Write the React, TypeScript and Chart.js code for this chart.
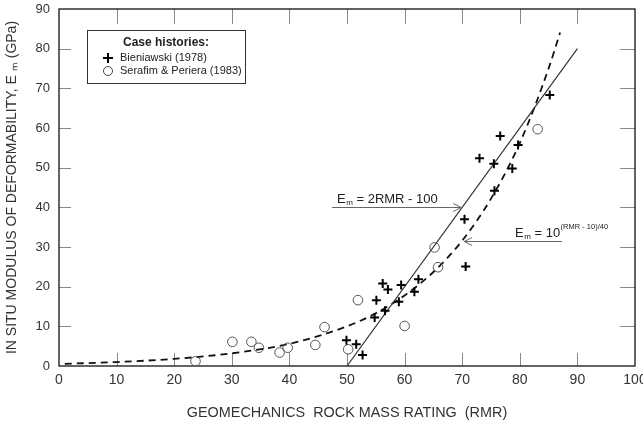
import React, { useEffect, useRef } from "react";
import { Chart, registerables } from "chart.js";

Chart.register(...registerables);

const FONT = '"Liberation Sans", Arial, Helvetica, sans-serif';

// Bieniawski (1978) case histories
const bieniawskiRMR = [49.9, 51.6, 52.7, 54.8, 55.1, 56.2, 56.6, 57.1, 59.0, 59.4, 61.7, 62.4, 70.4, 70.6, 73.0, 75.5, 75.6, 76.6, 78.7, 79.7, 85.2];
const bieniawskiEm = [6.5, 5.5, 2.8, 12.2, 16.6, 20.8, 13.9, 19.3, 16.2, 20.4, 18.7, 21.9, 37.0, 25.1, 52.4, 51.0, 44.2, 58.0, 49.8, 55.7, 68.3];

// Serafim & Periera (1983) case histories
const serafimRMR = [23.7, 30.1, 33.4, 34.7, 38.3, 39.7, 44.5, 46.1, 50.2, 51.9, 60.0, 65.2, 65.8, 83.1];
const serafimEm = [1.2, 6.1, 6.1, 4.6, 3.4, 4.6, 5.3, 9.8, 4.2, 16.6, 10.1, 29.9, 24.9, 59.7];

// Em = 2RMR - 100 (solid line)
const linearRMR = [50, 90];
const linearEm = [0, 80];

// Em = 10^((RMR-10)/40) (dashed curve)
const curveRMR = [1, 10, 20, 30, 40, 50, 55, 60, 65, 70, 75, 80, 85, 87];
const curveEm = [0.56, 1.0, 1.8, 3.2, 5.6, 10, 13.3, 17.8, 23.7, 31.6, 42.2, 56.2, 75, 84.1];

// Tick labels
const xTickValues = [0, 10, 20, 30, 40, 50, 60, 70, 80, 90, 100];
const yTickValues = [0, 10, 20, 30, 40, 50, 60, 70, 80, 90];

// Legend / annotation texts
const legendTitle = "Case histories:";
const seriesNames = ["Bieniawski (1978)", "Serafim & Periera (1983)"];
const xTitle = "GEOMECHANICS  ROCK MASS RATING  (RMR)";
const yTitle = "IN SITU MODULUS OF DEFORMABILITY, E ₘ (GPa)";

const zip = (xs: number[], ys: number[]) => xs.map((x, i) => ({ x, y: ys[i] }));

const frameTicksPlugin = {
  id: "frameTicks",
  beforeDatasetsDraw(chart: any) {
    const { ctx, chartArea: a, scales } = chart;
    const xs = scales.x;
    const ys = scales.y;
    ctx.save();
    ctx.strokeStyle = "#8a8a8a";
    ctx.lineWidth = 1;
    xTickValues.forEach((v) => {
      if (v <= 0 || v >= 100) return;
      const px = Math.round(xs.getPixelForValue(v)) + 0.5;
      ctx.beginPath();
      ctx.moveTo(px, a.bottom);
      ctx.lineTo(px, a.bottom - 13);
      ctx.moveTo(px, a.top);
      ctx.lineTo(px, a.top + 15);
      ctx.stroke();
    });
    yTickValues.forEach((v) => {
      if (v <= 0 || v >= 90) return;
      const py = Math.round(ys.getPixelForValue(v)) + 0.5;
      ctx.beginPath();
      ctx.moveTo(a.left, py);
      ctx.lineTo(a.left + 12, py);
      ctx.moveTo(a.right, py);
      ctx.lineTo(a.right - 15, py);
      ctx.stroke();
    });
    ctx.strokeStyle = "#111";
    ctx.lineWidth = 1.3;
    ctx.strokeRect(a.left, a.top, a.right - a.left, a.bottom - a.top);
    ctx.restore();
  },
};

function drawEm(ctx: CanvasRenderingContext2D, x: number, baseline: number, size: number) {
  ctx.font = `${size}px ${FONT}`;
  ctx.fillText("E", x, baseline);
  let w = ctx.measureText("E").width + 0.5;
  const sub = Math.round(size * 0.62);
  ctx.font = `${sub}px ${FONT}`;
  ctx.fillText("m", x + w, baseline + 2);
  w += ctx.measureText("m").width;
  ctx.font = `${size}px ${FONT}`;
  return x + w;
}

function arrow(ctx: CanvasRenderingContext2D, x0: number, y: number, x1: number) {
  const dir = x1 > x0 ? 1 : -1;
  ctx.beginPath();
  ctx.moveTo(x0, y);
  ctx.lineTo(x1, y);
  ctx.moveTo(x1 - dir * 8, y - 4);
  ctx.lineTo(x1, y);
  ctx.lineTo(x1 - dir * 8, y + 4);
  ctx.stroke();
}

const annotationPlugin = {
  id: "annotations",
  afterDatasetsDraw(chart: any) {
    const { ctx, scales } = chart;
    const xs = scales.x;
    const ys = scales.y;
    ctx.save();
    ctx.textBaseline = "alphabetic";
    ctx.textAlign = "left";
    ctx.fillStyle = "#222";
    ctx.strokeStyle = "#666";
    ctx.lineWidth = 1;

    // Em = 2RMR - 100
    const y1 = Math.round(ys.getPixelForValue(40)) + 0.5;
    const tip1 = xs.getPixelForValue(70) - 1;
    let cx = drawEm(ctx, 337, y1 - 5, 13);
    ctx.fillText(" = 2RMR - 100", cx, y1 - 5);
    arrow(ctx, 332, y1, tip1);

    // Em = 10^((RMR-10)/40)
    const y2 = Math.round(ys.getPixelForValue(31.6)) + 0.5;
    const tip2 = xs.getPixelForValue(70) + 2;
    cx = drawEm(ctx, 515, y2 - 5, 13);
    ctx.fillText(" = 10", cx, y2 - 5);
    cx += ctx.measureText(" = 10").width;
    ctx.font = `7.5px ${FONT}`;
    ctx.fillText("(RMR - 10)/40", cx + 0.5, y2 - 13);
    arrow(ctx, 562, y2, tip2);

    // Legend box
    ctx.strokeStyle = "#333";
    ctx.lineWidth = 1;
    ctx.strokeRect(87.5, 30.5, 158, 53);
    ctx.fillStyle = "#222";
    ctx.textAlign = "center";
    ctx.textBaseline = "middle";
    ctx.font = `bold 12px ${FONT}`;
    ctx.fillText(legendTitle, 166, 43);
    ctx.textAlign = "left";
    ctx.font = `11px ${FONT}`;
    ctx.fillText(seriesNames[0], 120, 58);
    ctx.fillText(seriesNames[1], 120, 71);
    // markers
    ctx.strokeStyle = "#000";
    ctx.lineWidth = 2;
    ctx.beginPath();
    ctx.moveTo(103, 58);
    ctx.lineTo(113, 58);
    ctx.moveTo(108, 53);
    ctx.lineTo(108, 63);
    ctx.stroke();
    ctx.strokeStyle = "#444";
    ctx.lineWidth = 1;
    ctx.beginPath();
    ctx.arc(108, 71, 4.5, 0, Math.PI * 2);
    ctx.stroke();
    ctx.restore();
  },
};

export default function App() {
  const ref = useRef<HTMLCanvasElement | null>(null);

  useEffect(() => {
    if (!ref.current) return;
    const chart = new Chart(ref.current, {
      type: "scatter",
      data: {
        datasets: [
          {
            label: seriesNames[0],
            data: zip(bieniawskiRMR, bieniawskiEm),
            pointStyle: "cross",
            pointRadius: 4.5,
            pointBorderWidth: 2,
            borderColor: "#000",
            backgroundColor: "#000",
            showLine: false,
          },
          {
            label: seriesNames[1],
            data: zip(serafimRMR, serafimEm),
            pointStyle: "circle",
            pointRadius: 4.8,
            pointBorderWidth: 1,
            borderColor: "#555",
            backgroundColor: "rgba(0,0,0,0)",
            showLine: false,
          },
          {
            label: "Em = 2RMR - 100",
            data: zip(linearRMR, linearEm),
            showLine: true,
            pointRadius: 0,
            borderColor: "#333",
            borderWidth: 1.2,
          },
          {
            label: "Em = 10^((RMR-10)/40)",
            data: zip(curveRMR, curveEm),
            showLine: true,
            pointRadius: 0,
            borderColor: "#111",
            borderWidth: 1.8,
            borderDash: [7, 5],
            cubicInterpolationMode: "monotone",
          },
        ],
      },
      options: {
        responsive: false,
        animation: false,
        events: [],
        layout: { padding: { left: 0, top: 9, right: 8, bottom: 0 } },
        plugins: {
          legend: { display: false },
          tooltip: { enabled: false },
        },
        scales: {
          x: {
            type: "linear",
            min: 0,
            max: 100,
            afterBuildTicks: (s: any) => {
              s.ticks = xTickValues.map((v) => ({ value: v }));
            },
            afterFit: (s: any) => {
              s.height = 61;
              s.paddingLeft = 0;
              s.paddingRight = 0;
            },
            grid: { display: false, drawTicks: false },
            border: { display: false },
            ticks: {
              padding: 6,
              maxRotation: 0,
              autoSkip: false,
              color: "#333",
              font: { family: FONT, size: 14 },
            },
            title: {
              display: true,
              text: xTitle,
              color: "#333",
              font: { family: FONT, size: 14.4 },
              padding: { top: 0, bottom: 5 },
            },
          },
          y: {
            type: "linear",
            min: 0,
            max: 90,
            afterBuildTicks: (s: any) => {
              s.ticks = yTickValues.map((v) => ({ value: v }));
            },
            afterFit: (s: any) => {
              s.width = 59;
              s.paddingTop = 0;
              s.paddingBottom = 0;
            },
            grid: { display: false, drawTicks: false },
            border: { display: false },
            ticks: {
              padding: 9,
              autoSkip: false,
              color: "#333",
              font: { family: FONT, size: 13 },
            },
            title: {
              display: true,
              text: yTitle,
              color: "#333",
              font: { family: FONT, size: 14 },
              padding: { top: 4, bottom: 0 },
            },
          },
        },
      },
      plugins: [frameTicksPlugin, annotationPlugin],
    } as any);
    return () => chart.destroy();
  }, []);

  return (
    <div style={{ position: "fixed", left: 0, top: 0, width: 643, height: 427, background: "#fff" }}>
      <canvas ref={ref} width={643} height={427} style={{ display: "block" }} />
    </div>
  );
}
